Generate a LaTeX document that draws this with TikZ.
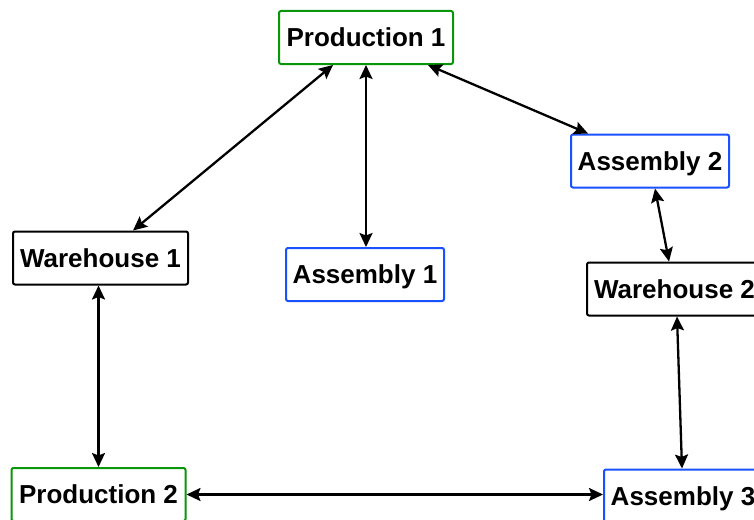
\documentclass[tikz,border=0pt]{standalone}
\usepackage{fontspec}
\setmainfont{Liberation Sans}
\usetikzlibrary{arrows.meta}
\definecolor{prodgreen}{RGB}{10,150,10}
\definecolor{asmblue}{RGB}{25,80,255}
\begin{document}
\begin{tikzpicture}[x=1pt,y=-1pt,
  box/.style={draw, line width=2pt, rounded corners=2pt, fill=white,
    inner sep=0pt, font=\fontsize{26}{30}\selectfont\bfseries,
    text height=18.7pt, text depth=0pt, minimum height=53pt},
  prod/.style={box, draw=prodgreen, minimum width=174pt},
  asm/.style={box, draw=asmblue, minimum width=158pt},
  store/.style={box, draw=black, minimum width=175pt},
  link/.style={line width=2.3pt, {Stealth[length=14pt,width=13pt,inset=2.5pt]}-{Stealth[length=14pt,width=13pt,inset=2.5pt]}}]
\clip (0,0) rectangle (754,519);
\fill[white] (0,0) rectangle (754,519);

% sites
\node[prod]  (p1) at (366,37.5)  {Production 1};
\node[asm]   (a2) at (650,161)   {Assembly 2};
\node[store] (w1) at (100.5,258) {Warehouse 1};
\node[asm]   (a1) at (365,274.5) {Assembly 1};
\node[store] (w2) at (674.5,289) {Warehouse 2};
\node[prod]  (p2) at (98.5,494.5){Production 2};
\node[asm]   (a3) at (683,496)   {Assembly 3};

% flows
\draw[link] ([xshift=-33pt]p1.south) -- ([xshift=32.5pt]w1.north);
\draw[link] (p1.south) -- (p1.south |- a1.north);
\draw[link] ([xshift=62pt]p1.south) -- ([xshift=-62pt]a2.north);
\draw[link] ([xshift=5pt]a2.south) -- ([xshift=-5.5pt]w2.north);
\draw[link] ([xshift=2.5pt]w2.south) -- ([xshift=-1pt]a3.north);
\draw[link] (w1.south -| p2.north) -- (p2.north);
\draw[link] (p2.east) -- (p2.east -| a3.west);
\end{tikzpicture}
\end{document}
